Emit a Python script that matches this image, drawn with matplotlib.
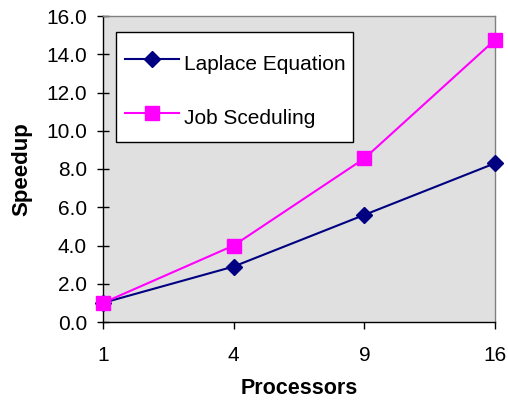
import matplotlib
matplotlib.use('Agg')
import matplotlib.pyplot as plt
from matplotlib.patches import Rectangle
import numpy as np

processors = ['1', '4', '9', '16']
laplace = [1.0, 2.9, 5.6, 8.3]
job_sched = [1.0, 4.0, 8.55, 14.75]
y_ticks = [0, 2, 4, 6, 8, 10, 12, 14, 16]

plt.rcParams['font.family'] = ['Liberation Sans', 'DejaVu Sans']


def main():
    fig = plt.figure(figsize=(5.08, 4.0), dpi=100)
    ax = fig.add_axes([103 / 508, 1 - 322 / 400, 392 / 508, 306 / 400])
    ax.set_facecolor('#e0e0e0')

    x = np.arange(len(processors))
    ax.plot(x, laplace, color='#000080', lw=1.5, marker='D', ms=8,
            label='Laplace Equation', clip_on=False, zorder=3)
    ax.plot(x, job_sched, color='#ff00ff', lw=1.5, marker='s', ms=10,
            label='Job Sceduling', clip_on=False, zorder=4)

    ax.set_xlim(0, len(processors) - 1)
    ax.set_ylim(0, 16)
    ax.set_xticks(x)
    ax.set_xticklabels(processors)
    ax.set_yticks(y_ticks)
    ax.set_yticklabels([f'{v:.1f}' for v in y_ticks])
    ax.tick_params(axis='both', labelsize=15, colors='black')
    ax.tick_params(axis='y', direction='inout', length=9, width=1, pad=7)
    ax.tick_params(axis='x', direction='out', length=5, width=1, pad=12)

    for side in ['left', 'bottom']:
        ax.spines[side].set_color('black')
        ax.spines[side].set_linewidth(1)
    for side in ['top', 'right']:
        ax.spines[side].set_color('#808080')
        ax.spines[side].set_linewidth(1)

    ax.set_xlabel('Processors', fontsize=15.5, fontweight='bold', labelpad=10)
    ax.set_ylabel('Speedup', fontsize=16, fontweight='bold', labelpad=10)

    # legend box drawn separately so its padding can differ per direction
    box = Rectangle((0.0332, 0.588), 0.605, 0.36, transform=ax.transAxes,
                    facecolor='white', edgecolor='black', lw=1, zorder=5)
    ax.add_patch(box)
    leg = ax.legend(loc='upper left', bbox_to_anchor=(0.056, 0.895),
                    borderaxespad=0, borderpad=0, fontsize=15, frameon=False,
                    labelspacing=1.19, handlelength=2.6, handleheight=1.8,
                    handletextpad=0.25)
    leg.set_zorder(6)

    fig.savefig('out.png', dpi=100)


if __name__ == '__main__':
    main()
